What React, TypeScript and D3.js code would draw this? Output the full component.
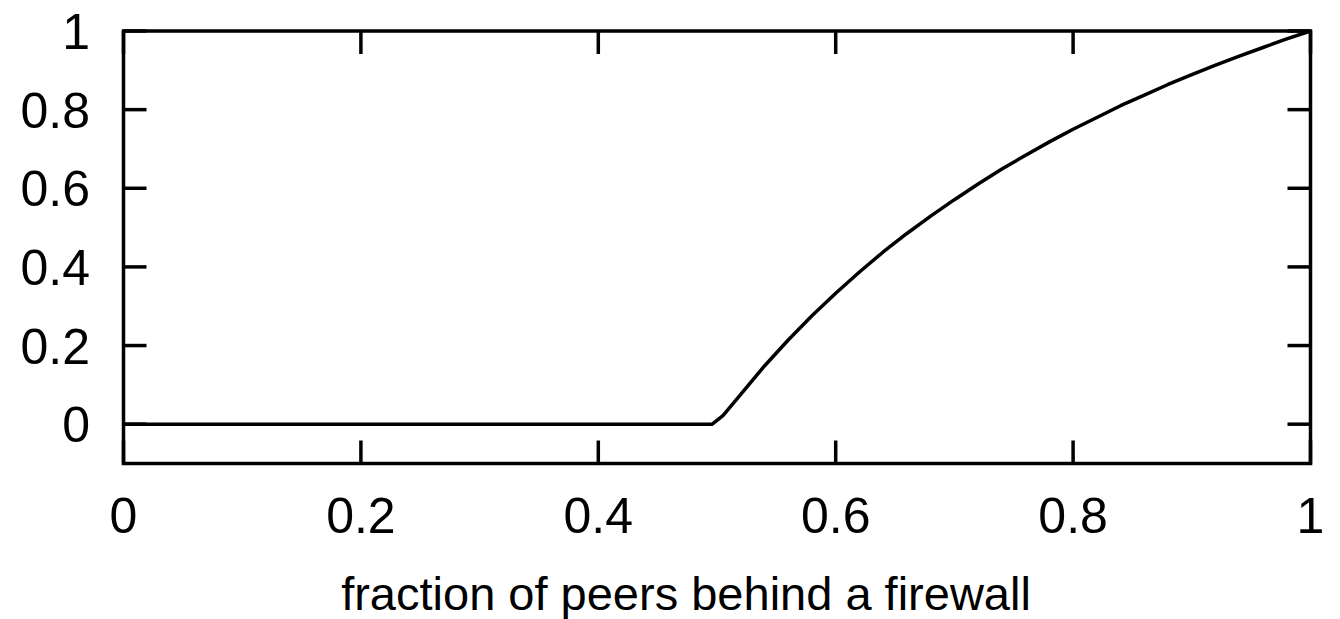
import React from "react";
import * as d3 from "d3";

const xTicks = [0, 0.2, 0.4, 0.6, 0.8, 1];
const yTicks = [0, 0.2, 0.4, 0.6, 0.8, 1];
const fraction = [
  0, 0.496, 0.505, 0.52, 0.54, 0.56, 0.58, 0.6, 0.62, 0.64, 0.66, 0.68, 0.7, 0.72, 0.74, 0.76, 0.78, 0.8,
  0.82, 0.84, 0.86, 0.88, 0.9, 0.92, 0.94, 0.96, 0.98, 1.0,
];
const value = [
  0, 0, 0.022, 0.076, 0.148, 0.214, 0.276, 0.333, 0.387, 0.438, 0.485, 0.529, 0.571, 0.611, 0.649, 0.684,
  0.718, 0.75, 0.78, 0.81, 0.837, 0.864, 0.889, 0.913, 0.936, 0.958, 0.98, 1.0,
];
const xLabel = "fraction of peers behind a firewall";

const W = 1340;
const H = 619;
const left = 123.5;
const right = 1310.5;
const top = 31;
const bottom = 463.5;

export default function App() {
  const x = d3.scaleLinear().domain([0, 1]).range([left, right]);
  const y = d3.scaleLinear().domain([-0.1, 1]).range([bottom, top]);
  const pts: [number, number][] = fraction.map((f, i) => [f, value[i]]);
  const line = d3
    .line<[number, number]>()
    .x((d) => x(d[0]))
    .y((d) => y(d[1]))
    .curve(d3.curveLinear);
  const font = "'Liberation Sans', Arial, Helvetica, sans-serif";
  const tickLen = 23;
  const sw = 3.5;
  return (
    <svg
      width={W}
      height={H}
      style={{ position: "absolute", left: 0, top: 0, background: "#fff" }}
      fontFamily={font}
    >
      <rect x={0} y={0} width={W} height={H} fill="#fff" />
      <path d={line(pts) || ""} fill="none" stroke="#000" strokeWidth={3.5} strokeLinejoin="round" />
      {xTicks.map((t) => (
        <g key={"x" + t}>
          <line x1={x(t)} x2={x(t)} y1={bottom} y2={bottom - tickLen} stroke="#000" strokeWidth={sw} />
          <line x1={x(t)} x2={x(t)} y1={top} y2={top + tickLen} stroke="#000" strokeWidth={sw} />
          <text x={x(t)} y={533} textAnchor="middle" fontSize={50} fill="#000">
            {String(t)}
          </text>
        </g>
      ))}
      {yTicks.map((t) => (
        <g key={"y" + t}>
          <line x1={left} x2={left + tickLen} y1={y(t)} y2={y(t)} stroke="#000" strokeWidth={sw} />
          <line x1={right} x2={right - tickLen} y1={y(t)} y2={y(t)} stroke="#000" strokeWidth={sw} />
          <text x={90} y={y(t) + 18} textAnchor="end" fontSize={50} fill="#000">
            {String(t)}
          </text>
        </g>
      ))}
      <rect
        x={left}
        y={top}
        width={right - left}
        height={bottom - top}
        fill="none"
        stroke="#000"
        strokeWidth={sw}
      />
      <text x={686} y={610} textAnchor="middle" fontSize={47} fill="#000">
        {xLabel}
      </text>
    </svg>
  );
}
